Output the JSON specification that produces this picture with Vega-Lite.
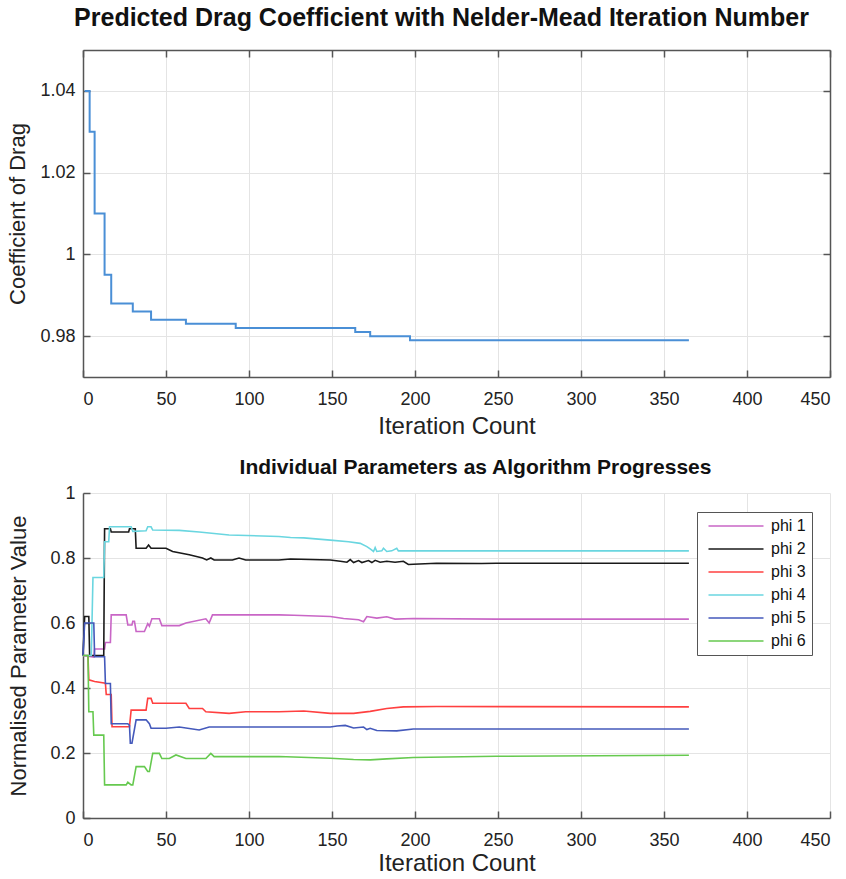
{
  "$schema": "https://vega.github.io/schema/vega-lite/v6.json",
  "background": "white",
  "padding": {"left": 6, "top": 6, "right": 10, "bottom": 5},
  "config": {
    "font": "Liberation Sans",
    "view": {"stroke": null},
    "concat": {"spacing": 19},
    "axis": {
      "gridColor": "#e4e4e4",
      "gridWidth": 1,
      "domainColor": "#555555",
      "domainWidth": 1.5,
      "tickColor": "#555555",
      "tickWidth": 1.5,
      "tickSize": -7,
      "labelColor": "#222222",
      "labelFontSize": 18,
      "labelPadding": 15,
      "titleColor": "#222222",
      "titleFontWeight": "normal"
    },
    "axisX": {"labelPadding": 20},
    "title": {"fontWeight": "bold", "color": "#111111"}
  },
  "vconcat": [
    {
      "title": {"text": "Predicted Drag Coefficient with Nelder-Mead Iteration Number", "fontSize": 25, "offset": 18, "dx": -15},
      "width": 747,
      "height": 327,
      "data": {"values": [
        {"it": 1, "cd": 1.04},
        {"it": 4, "cd": 1.03},
        {"it": 7, "cd": 1.01},
        {"it": 13, "cd": 0.995},
        {"it": 17, "cd": 0.988},
        {"it": 30, "cd": 0.986},
        {"it": 41, "cd": 0.984},
        {"it": 62, "cd": 0.983},
        {"it": 92, "cd": 0.982},
        {"it": 164, "cd": 0.981},
        {"it": 173, "cd": 0.98},
        {"it": 197, "cd": 0.979},
        {"it": 365, "cd": 0.979}
      ]},
      "layer": [
        {
          "mark": {"type": "line", "interpolate": "step-after", "color": "#4a8fd6", "strokeWidth": 2},
          "encoding": {
            "x": {"field": "it", "type": "quantitative",
              "scale": {"domain": [0, 450], "nice": false},
              "axis": {"values": [0, 50, 100, 150, 200, 250, 300, 350, 400, 450], "title": "Iteration Count", "titleFontSize": 24, "titlePadding": 6}},
            "y": {"field": "cd", "type": "quantitative",
              "scale": {"domain": [0.97, 1.05], "nice": false, "zero": false},
              "axis": {"values": [0.98, 1, 1.02, 1.04], "format": "~g", "title": "Coefficient of Drag", "titleFontSize": 22, "titlePadding": 10}}
          }
        },
        {
          "mark": {"type": "line", "interpolate": "step-after", "strokeOpacity": 0},
          "encoding": {
            "x": {"field": "it", "type": "quantitative",
              "scale": {"domain": [0, 450], "nice": false},
              "axis": {"orient": "top", "values": [0, 50, 100, 150, 200, 250, 300, 350, 400, 450], "labels": false, "grid": false, "title": null}},
            "y": {"field": "cd", "type": "quantitative",
              "scale": {"domain": [0.97, 1.05], "nice": false, "zero": false},
              "axis": {"orient": "right", "values": [0.98, 1, 1.02, 1.04], "labels": false, "grid": false, "title": null}}
          }
        }
      ],
      "resolve": {"axis": {"x": "independent", "y": "independent"}}
    },
    {
      "title": {"text": "Individual Parameters as Algorithm Progresses", "fontSize": 21, "offset": 6, "dx": 19},
      "width": 747,
      "height": 325,
      "data": {"values": [
        {"s": "phi 1", "it": 0, "v": 0.5},
        {"s": "phi 1", "it": 6.5, "v": 0.495},
        {"s": "phi 1", "it": 7, "v": 0.52},
        {"s": "phi 1", "it": 13, "v": 0.52},
        {"s": "phi 1", "it": 13.5, "v": 0.54},
        {"s": "phi 1", "it": 16.5, "v": 0.54},
        {"s": "phi 1", "it": 17, "v": 0.625},
        {"s": "phi 1", "it": 26, "v": 0.625},
        {"s": "phi 1", "it": 27, "v": 0.594},
        {"s": "phi 1", "it": 29.5, "v": 0.594},
        {"s": "phi 1", "it": 30, "v": 0.605},
        {"s": "phi 1", "it": 31, "v": 0.605},
        {"s": "phi 1", "it": 32, "v": 0.574},
        {"s": "phi 1", "it": 37, "v": 0.574},
        {"s": "phi 1", "it": 39, "v": 0.598},
        {"s": "phi 1", "it": 40, "v": 0.59},
        {"s": "phi 1", "it": 41.5, "v": 0.613},
        {"s": "phi 1", "it": 46, "v": 0.613},
        {"s": "phi 1", "it": 47.5, "v": 0.592},
        {"s": "phi 1", "it": 58, "v": 0.592},
        {"s": "phi 1", "it": 62, "v": 0.6},
        {"s": "phi 1", "it": 74, "v": 0.613},
        {"s": "phi 1", "it": 76, "v": 0.6},
        {"s": "phi 1", "it": 78, "v": 0.625},
        {"s": "phi 1", "it": 118, "v": 0.625},
        {"s": "phi 1", "it": 127, "v": 0.624},
        {"s": "phi 1", "it": 149, "v": 0.62},
        {"s": "phi 1", "it": 157, "v": 0.614},
        {"s": "phi 1", "it": 166, "v": 0.61},
        {"s": "phi 1", "it": 169, "v": 0.604},
        {"s": "phi 1", "it": 171, "v": 0.62},
        {"s": "phi 1", "it": 177, "v": 0.615},
        {"s": "phi 1", "it": 183, "v": 0.619},
        {"s": "phi 1", "it": 188, "v": 0.612},
        {"s": "phi 1", "it": 199, "v": 0.614},
        {"s": "phi 1", "it": 249, "v": 0.612},
        {"s": "phi 1", "it": 365, "v": 0.612},

        {"s": "phi 2", "it": 0, "v": 0.5},
        {"s": "phi 2", "it": 1, "v": 0.62},
        {"s": "phi 2", "it": 3.5, "v": 0.62},
        {"s": "phi 2", "it": 4, "v": 0.5},
        {"s": "phi 2", "it": 12.5, "v": 0.5},
        {"s": "phi 2", "it": 13, "v": 0.89},
        {"s": "phi 2", "it": 16.5, "v": 0.89},
        {"s": "phi 2", "it": 17, "v": 0.88},
        {"s": "phi 2", "it": 27.5, "v": 0.88},
        {"s": "phi 2", "it": 28, "v": 0.89},
        {"s": "phi 2", "it": 31.5, "v": 0.89},
        {"s": "phi 2", "it": 32, "v": 0.83},
        {"s": "phi 2", "it": 38, "v": 0.83},
        {"s": "phi 2", "it": 39.5, "v": 0.84},
        {"s": "phi 2", "it": 41, "v": 0.83},
        {"s": "phi 2", "it": 50, "v": 0.83},
        {"s": "phi 2", "it": 54, "v": 0.82},
        {"s": "phi 2", "it": 64, "v": 0.81},
        {"s": "phi 2", "it": 72, "v": 0.8},
        {"s": "phi 2", "it": 74.5, "v": 0.794},
        {"s": "phi 2", "it": 77, "v": 0.8},
        {"s": "phi 2", "it": 79, "v": 0.794},
        {"s": "phi 2", "it": 90, "v": 0.794},
        {"s": "phi 2", "it": 94, "v": 0.8},
        {"s": "phi 2", "it": 98, "v": 0.794},
        {"s": "phi 2", "it": 118, "v": 0.794},
        {"s": "phi 2", "it": 125, "v": 0.797},
        {"s": "phi 2", "it": 149, "v": 0.794},
        {"s": "phi 2", "it": 155, "v": 0.79},
        {"s": "phi 2", "it": 159, "v": 0.787},
        {"s": "phi 2", "it": 161, "v": 0.795},
        {"s": "phi 2", "it": 163, "v": 0.786},
        {"s": "phi 2", "it": 166, "v": 0.792},
        {"s": "phi 2", "it": 168, "v": 0.786},
        {"s": "phi 2", "it": 172, "v": 0.792},
        {"s": "phi 2", "it": 174, "v": 0.786},
        {"s": "phi 2", "it": 176, "v": 0.793},
        {"s": "phi 2", "it": 179, "v": 0.787},
        {"s": "phi 2", "it": 183, "v": 0.79},
        {"s": "phi 2", "it": 188, "v": 0.787},
        {"s": "phi 2", "it": 193, "v": 0.79},
        {"s": "phi 2", "it": 196, "v": 0.78},
        {"s": "phi 2", "it": 199, "v": 0.781},
        {"s": "phi 2", "it": 213, "v": 0.784},
        {"s": "phi 2", "it": 240, "v": 0.783},
        {"s": "phi 2", "it": 249, "v": 0.784},
        {"s": "phi 2", "it": 365, "v": 0.784},

        {"s": "phi 3", "it": 0, "v": 0.5},
        {"s": "phi 3", "it": 3, "v": 0.5},
        {"s": "phi 3", "it": 3.5, "v": 0.425},
        {"s": "phi 3", "it": 7, "v": 0.42},
        {"s": "phi 3", "it": 13.5, "v": 0.415},
        {"s": "phi 3", "it": 14, "v": 0.38},
        {"s": "phi 3", "it": 17, "v": 0.38},
        {"s": "phi 3", "it": 17.5, "v": 0.281},
        {"s": "phi 3", "it": 28, "v": 0.281},
        {"s": "phi 3", "it": 29, "v": 0.332},
        {"s": "phi 3", "it": 38, "v": 0.332},
        {"s": "phi 3", "it": 39, "v": 0.368},
        {"s": "phi 3", "it": 41, "v": 0.368},
        {"s": "phi 3", "it": 42, "v": 0.353},
        {"s": "phi 3", "it": 62, "v": 0.353},
        {"s": "phi 3", "it": 64, "v": 0.337},
        {"s": "phi 3", "it": 72, "v": 0.337},
        {"s": "phi 3", "it": 74, "v": 0.327},
        {"s": "phi 3", "it": 88, "v": 0.322},
        {"s": "phi 3", "it": 98, "v": 0.327},
        {"s": "phi 3", "it": 118, "v": 0.327},
        {"s": "phi 3", "it": 133, "v": 0.329},
        {"s": "phi 3", "it": 149, "v": 0.322},
        {"s": "phi 3", "it": 163, "v": 0.322},
        {"s": "phi 3", "it": 173, "v": 0.328},
        {"s": "phi 3", "it": 183, "v": 0.337},
        {"s": "phi 3", "it": 193, "v": 0.342},
        {"s": "phi 3", "it": 213, "v": 0.343},
        {"s": "phi 3", "it": 365, "v": 0.342},

        {"s": "phi 4", "it": 0, "v": 0.5},
        {"s": "phi 4", "it": 5, "v": 0.5},
        {"s": "phi 4", "it": 6, "v": 0.74},
        {"s": "phi 4", "it": 12.5, "v": 0.74},
        {"s": "phi 4", "it": 13, "v": 0.85},
        {"s": "phi 4", "it": 15.5, "v": 0.85},
        {"s": "phi 4", "it": 16, "v": 0.896},
        {"s": "phi 4", "it": 29, "v": 0.896},
        {"s": "phi 4", "it": 30, "v": 0.882},
        {"s": "phi 4", "it": 38, "v": 0.884},
        {"s": "phi 4", "it": 39, "v": 0.896},
        {"s": "phi 4", "it": 41, "v": 0.896},
        {"s": "phi 4", "it": 42, "v": 0.886},
        {"s": "phi 4", "it": 58, "v": 0.885},
        {"s": "phi 4", "it": 70, "v": 0.88},
        {"s": "phi 4", "it": 88, "v": 0.871},
        {"s": "phi 4", "it": 118, "v": 0.866},
        {"s": "phi 4", "it": 125, "v": 0.863},
        {"s": "phi 4", "it": 133, "v": 0.862},
        {"s": "phi 4", "it": 149, "v": 0.855},
        {"s": "phi 4", "it": 160, "v": 0.85},
        {"s": "phi 4", "it": 167, "v": 0.845},
        {"s": "phi 4", "it": 171, "v": 0.835},
        {"s": "phi 4", "it": 173, "v": 0.828},
        {"s": "phi 4", "it": 175, "v": 0.82},
        {"s": "phi 4", "it": 176, "v": 0.832},
        {"s": "phi 4", "it": 177, "v": 0.82},
        {"s": "phi 4", "it": 180, "v": 0.822},
        {"s": "phi 4", "it": 181, "v": 0.83},
        {"s": "phi 4", "it": 183, "v": 0.82},
        {"s": "phi 4", "it": 186, "v": 0.822},
        {"s": "phi 4", "it": 189, "v": 0.83},
        {"s": "phi 4", "it": 190, "v": 0.822},
        {"s": "phi 4", "it": 365, "v": 0.822},

        {"s": "phi 5", "it": 0, "v": 0.5},
        {"s": "phi 5", "it": 1, "v": 0.6},
        {"s": "phi 5", "it": 6.5, "v": 0.6},
        {"s": "phi 5", "it": 7, "v": 0.496},
        {"s": "phi 5", "it": 13, "v": 0.496},
        {"s": "phi 5", "it": 13.5, "v": 0.414},
        {"s": "phi 5", "it": 16.5, "v": 0.414},
        {"s": "phi 5", "it": 17, "v": 0.29},
        {"s": "phi 5", "it": 27, "v": 0.29},
        {"s": "phi 5", "it": 28, "v": 0.285},
        {"s": "phi 5", "it": 28.5, "v": 0.23},
        {"s": "phi 5", "it": 29.5, "v": 0.23},
        {"s": "phi 5", "it": 32, "v": 0.302},
        {"s": "phi 5", "it": 38, "v": 0.302},
        {"s": "phi 5", "it": 40, "v": 0.29},
        {"s": "phi 5", "it": 41, "v": 0.276},
        {"s": "phi 5", "it": 50, "v": 0.276},
        {"s": "phi 5", "it": 58, "v": 0.28},
        {"s": "phi 5", "it": 70, "v": 0.271},
        {"s": "phi 5", "it": 76, "v": 0.28},
        {"s": "phi 5", "it": 118, "v": 0.28},
        {"s": "phi 5", "it": 149, "v": 0.28},
        {"s": "phi 5", "it": 153, "v": 0.283},
        {"s": "phi 5", "it": 158, "v": 0.285},
        {"s": "phi 5", "it": 163, "v": 0.277},
        {"s": "phi 5", "it": 169, "v": 0.28},
        {"s": "phi 5", "it": 171, "v": 0.272},
        {"s": "phi 5", "it": 173, "v": 0.276},
        {"s": "phi 5", "it": 177, "v": 0.269},
        {"s": "phi 5", "it": 189, "v": 0.268},
        {"s": "phi 5", "it": 199, "v": 0.274},
        {"s": "phi 5", "it": 213, "v": 0.274},
        {"s": "phi 5", "it": 365, "v": 0.274},

        {"s": "phi 6", "it": 0, "v": 0.5},
        {"s": "phi 6", "it": 3, "v": 0.5},
        {"s": "phi 6", "it": 3.5, "v": 0.327},
        {"s": "phi 6", "it": 6, "v": 0.327},
        {"s": "phi 6", "it": 6.5, "v": 0.255},
        {"s": "phi 6", "it": 12.5, "v": 0.255},
        {"s": "phi 6", "it": 13, "v": 0.102},
        {"s": "phi 6", "it": 26, "v": 0.102},
        {"s": "phi 6", "it": 27, "v": 0.11},
        {"s": "phi 6", "it": 29, "v": 0.102},
        {"s": "phi 6", "it": 30, "v": 0.102},
        {"s": "phi 6", "it": 32, "v": 0.158},
        {"s": "phi 6", "it": 37, "v": 0.158},
        {"s": "phi 6", "it": 39, "v": 0.143},
        {"s": "phi 6", "it": 40, "v": 0.143},
        {"s": "phi 6", "it": 42, "v": 0.199},
        {"s": "phi 6", "it": 46, "v": 0.199},
        {"s": "phi 6", "it": 47.5, "v": 0.183},
        {"s": "phi 6", "it": 52, "v": 0.183},
        {"s": "phi 6", "it": 56, "v": 0.194},
        {"s": "phi 6", "it": 62, "v": 0.183},
        {"s": "phi 6", "it": 74, "v": 0.183},
        {"s": "phi 6", "it": 77, "v": 0.199},
        {"s": "phi 6", "it": 79, "v": 0.189},
        {"s": "phi 6", "it": 118, "v": 0.189},
        {"s": "phi 6", "it": 149, "v": 0.184},
        {"s": "phi 6", "it": 163, "v": 0.18},
        {"s": "phi 6", "it": 173, "v": 0.179},
        {"s": "phi 6", "it": 183, "v": 0.182},
        {"s": "phi 6", "it": 199, "v": 0.186},
        {"s": "phi 6", "it": 249, "v": 0.19},
        {"s": "phi 6", "it": 365, "v": 0.193}
      ]},
      "mark": {"type": "line", "strokeWidth": 1.6},
      "encoding": {
        "x": {"field": "it", "type": "quantitative",
          "scale": {"domain": [0, 450], "nice": false},
          "axis": {"values": [0, 50, 100, 150, 200, 250, 300, 350, 400, 450], "title": "Iteration Count", "titleFontSize": 24, "titlePadding": 2}},
        "y": {"field": "v", "type": "quantitative",
          "scale": {"domain": [0, 1], "nice": false},
          "axis": {"values": [0, 0.2, 0.4, 0.6, 0.8, 1], "format": "~g", "title": "Normalised Parameter Value", "titleFontSize": 22, "titlePadding": 19}},
        "color": {"field": "s", "type": "nominal",
          "scale": {"domain": ["phi 1", "phi 2", "phi 3", "phi 4", "phi 5", "phi 6"],
                    "range": ["#c966c6", "#1a1a1a", "#ff4040", "#6ad6e0", "#4459bb", "#66c94f"]},
          "legend": {"orient": "none", "legendX": 614, "legendY": 462, "title": null,
            "symbolType": "M-5,0H5", "symbolSize": 121, "symbolStrokeWidth": 1.5, "symbolOffset": 25,
            "labelFontSize": 16, "labelColor": "#111111", "labelOffset": 27,
            "strokeColor": "#555555", "fillColor": "white",
            "padding": 6, "rowPadding": 7}}
      }
    }
  ]
}
